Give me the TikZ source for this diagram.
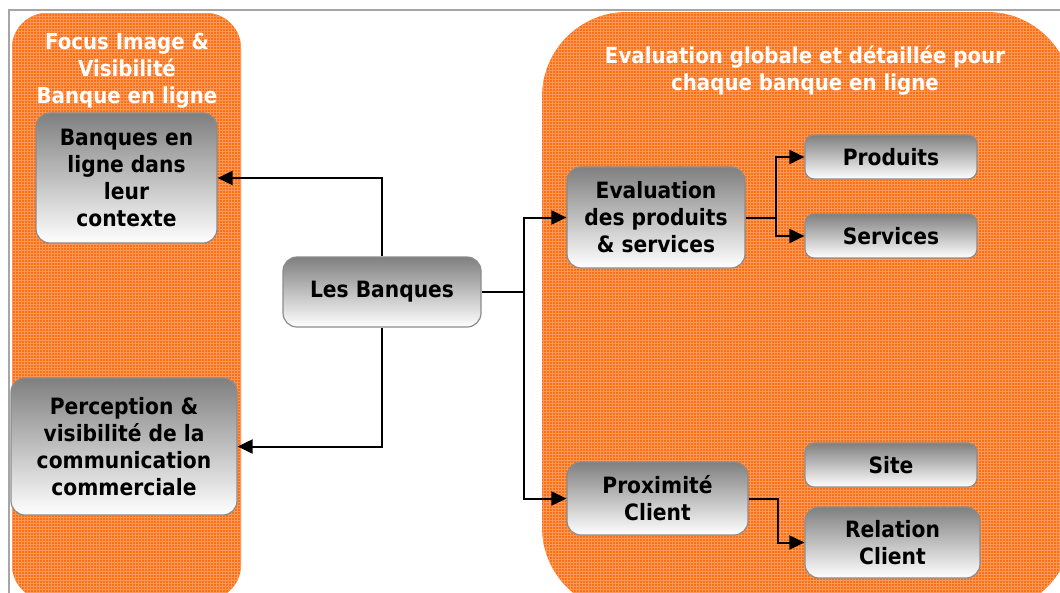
\documentclass[tikz,border=0pt]{standalone}
\usepackage{fontspec}
\setmainfont{DejaVu Sans}[FakeStretch=0.9]
\usetikzlibrary{arrows.meta,patterns}

\definecolor{orangefond}{RGB}{252,112,20}
\definecolor{orangegrille}{RGB}{255,152,88}

\begin{document}
\begin{tikzpicture}[x=1pt, y=-1pt]

	\tikzstyle{panneau}=[fill=orangefond]
	\tikzstyle{grille}=[pattern=grid, pattern color=orangegrille]
	\tikzstyle{titre}=[white, align=center, font=\bfseries\fontsize{22}{27}\selectfont]
	\tikzstyle{boite}=[draw=black!45, line width=1.2pt, rounded corners=14pt, top color=black!50, bottom color=white, align=center, inner sep=2pt, font=\bfseries\fontsize{22.5}{27}\selectfont]
	\tikzstyle{trait}=[line width=2pt]
	\tikzstyle{fleche}=[trait, -{Triangle[length=15pt, width=14pt]}]

	\useasboundingbox (0,0) rectangle (1060,592);
	\clip (0,0) rectangle (1060,592);

	\draw[gray!70, line width=2pt] (9,600) -- (9,10) -- (1075,10); % CADRE

	%%%%%%%%%%%%%%%%%%%%%%%%%%%%%%%%%
	%%%%%%%% PANNEAUX %%%%%%%%
	\fill[panneau, rounded corners=35pt] (12,13) rectangle (241,600); % GAUCHE
	\path[grille, rounded corners=35pt] (12,13) rectangle (241,600);
	\fill[panneau, rounded corners=85pt] (542,12) rectangle (1072,612); % DROITE
	\path[grille, rounded corners=85pt] (542,12) rectangle (1072,612);
	%%%%%%%%%%%%%%%%%%%%%%%%%%%%%%%%%

	\coordinate (t_gauche) at (127,71);
	\coordinate (t_droite) at (805,71);

	\coordinate (c_contexte) at (126.5,178); % GAUCHE
	\coordinate (c_perception) at (124,446.5); % GAUCHE
	\coordinate (c_banques) at (382,292); % CENTRE
	\coordinate (c_evaluation) at (656,217.5); % DROITE
	\coordinate (c_produits) at (891,157); % DROITE
	\coordinate (c_services) at (891,236); % DROITE
	\coordinate (c_proximite) at (657.5,498.5); % DROITE
	\coordinate (c_site) at (891,465); % DROITE
	\coordinate (c_relation) at (892.5,542.5); % DROITE

	\node[titre] (t_gauche) at (t_gauche) {Focus Image \&\\Visibilité\\Banque en ligne};
	\node[titre] (t_droite) at (t_droite) {Evaluation globale et détaillée pour\\chaque banque en ligne};

	\node[boite, minimum width=181, minimum height=130] (contexte) at (c_contexte) {Banques en\\ligne dans\\leur\\contexte};
	\node[boite, minimum width=226, minimum height=137] (perception) at (c_perception) {Perception \&\\visibilité de la\\communication\\commerciale};
	\node[boite, minimum width=198, minimum height=70] (banques) at (c_banques) {Les Banques};
	\node[boite, minimum width=178, minimum height=101] (evaluation) at (c_evaluation) {Evaluation\\des produits\\\& services};
	\node[boite, minimum width=172, minimum height=44, rounded corners=9pt] (produits) at (c_produits) {Produits};
	\node[boite, minimum width=172, minimum height=44, rounded corners=9pt] (services) at (c_services) {Services};
	\node[boite, minimum width=181, minimum height=73] (proximite) at (c_proximite) {Proximité\\Client};
	\node[boite, minimum width=172, minimum height=44, rounded corners=9pt] (site) at (c_site) {Site};
	\node[boite, minimum width=175, minimum height=71] (relation) at (c_relation) {Relation\\Client};

	%%%%%%%%%%%%%%%%%%%%%%%%%%%%%%%%%
	%%%%%%%% LIAISONS %%%%%%%%
	\draw[fleche] (banques.north) |- (contexte.east);
	\draw[fleche] (banques.south) |- (perception.east);

	\draw[trait] (banques.east) -- ++(42,0) coordinate (b_split);
	\draw[fleche] (b_split) |- (evaluation.west);
	\draw[fleche] (b_split) |- (proximite.west);

	\draw[trait] (evaluation.east) -- ++(30,0) coordinate (e_split);
	\draw[fleche] (e_split) |- (produits.west);
	\draw[fleche] (e_split) |- (services.west);

	\draw[fleche] (proximite.east) -- ++(29,0) |- (relation.west);
	%%%%%%%%%%%%%%%%%%%%%%%%%%%%%%%%%
\end{tikzpicture}
\end{document}
